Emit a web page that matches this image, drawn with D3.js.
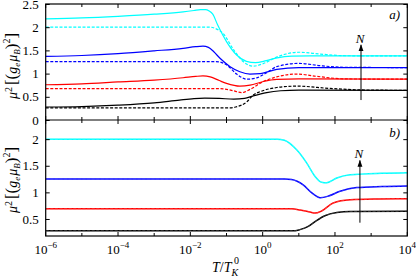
<!DOCTYPE html>
<html>
<head>
<meta charset="utf-8">
<script src="https://cdn.jsdelivr.net/npm/d3@7"></script>
<style>
  body { margin: 0; background: #fff; }
  svg text { font-family: "Liberation Serif", "Times New Roman", serif !important; fill: #000; }
</style>
</head>
<body>
<div id="chart"></div>
<script>
// curves as [log10(T/TK0), mu^2] pairs
// panel a) solid
var cyanSolidA = [[-6,2.18],[-5,2.20],[-4,2.235],[-3,2.28],[-2.2,2.33],[-1.9,2.36],[-1.72,2.38],[-1.58,2.38],[-1.48,2.35],[-1.38,2.28],[-1.24,2.04],[-1.0,1.69],[-0.72,1.40],[-0.45,1.265],[-0.2,1.235],[0.1,1.28],[0.4,1.34],[0.8,1.375],[1.3,1.38],[4,1.38]];
var blueSolidA = [[-6,1.37],[-5,1.39],[-4,1.43],[-3,1.49],[-2.2,1.545],[-1.85,1.58],[-1.65,1.59],[-1.5,1.565],[-1.35,1.47],[-1.18,1.33],[-0.9,1.15],[-0.63,1.04],[-0.35,0.99],[-0.07,1.0],[0.39,1.09],[1.0,1.13],[4,1.13]];
var redSolidA = [[-6,0.76],[-5,0.78],[-4,0.82],[-3,0.86],[-2.2,0.91],[-1.85,0.94],[-1.65,0.95],[-1.45,0.93],[-1.2,0.85],[-1.0,0.79],[-0.63,0.73],[-0.35,0.75],[0.02,0.83],[0.39,0.875],[1.0,0.885],[4,0.88]];
var blackSolidA = [[-6,0.28],[-5,0.29],[-4,0.32],[-3,0.37],[-2.3,0.43],[-1.9,0.46],[-1.6,0.47],[-1.2,0.465],[-0.8,0.45],[-0.5,0.465],[-0.26,0.52],[0.11,0.59],[0.5,0.63],[1.0,0.645],[4,0.64]];
// panel a) dashed
var cyanDashA = [[-6,2.0],[-1.45,2.0],[-1.3,1.97],[-1.1,1.87],[-0.8,1.51],[-0.54,1.26],[-0.26,1.16],[0.0,1.21],[0.4,1.36],[1.0,1.46],[1.6,1.42],[2.3,1.385],[4,1.38]];
var blueDashA = [[-6,1.26],[-1.3,1.26],[-1.0,1.19],[-0.72,0.99],[-0.44,0.88],[-0.2,0.90],[0.11,1.02],[0.39,1.15],[1.0,1.22],[1.6,1.17],[2.3,1.135],[4,1.13]];
var redDashA = [[-6,0.675],[-1.2,0.675],[-1.0,0.66],[-0.81,0.63],[-0.58,0.59],[-0.35,0.66],[0.02,0.83],[0.39,0.93],[0.95,0.99],[1.5,0.94],[2.3,0.885],[4,0.88]];
var blackDashA = [[-6,0.26],[-0.9,0.26],[-0.75,0.28],[-0.44,0.39],[-0.26,0.54],[-0.07,0.61],[0.39,0.70],[0.95,0.73],[1.86,0.68],[2.9,0.645],[4,0.64]];
// panel b) solid and dashed lie on top of each other
var cyanB = [[-6,2.0],[0.4,2.0],[0.6,1.98],[0.94,1.80],[1.22,1.55],[1.45,1.30],[1.63,1.19],[1.77,1.18],[2.05,1.27],[2.42,1.33],[3.3,1.36],[4,1.37]];
var blueB = [[-6,1.25],[0.6,1.25],[0.8,1.24],[1.12,1.14],[1.36,0.99],[1.59,0.90],[1.82,0.93],[2.14,1.02],[2.6,1.09],[3.3,1.11],[4,1.12]];
var redB = [[-6,0.69],[0.8,0.69],[1.03,0.67],[1.31,0.63],[1.45,0.61],[1.63,0.65],[1.95,0.80],[2.42,0.86],[3.2,0.875],[4,0.88]];
var blackB = [[-6,0.28],[0.9,0.28],[1.03,0.30],[1.26,0.36],[1.49,0.47],[1.72,0.56],[2.05,0.62],[2.42,0.64],[4,0.645]];

var xTicks = [-6,-5,-4,-3,-2,-1,0,1,2,3,4];
var xLabels = [-6,-4,-2,0,2,4];
var yTicksA = [0,0.5,1,1.5,2,2.5];
var yTicksB = [0.5,1,1.5,2];
// N arrow: [log10 T, from, to]
var arrowA = [2.72, 0.43, 1.62];
var arrowB = [2.69, 0.43, 1.60];

var width = 416, height = 280;
var left = 45.7, right = 407.3;
var serif = '"Liberation Serif", "Times New Roman", serif';

var svg = d3.select("#chart").append("svg").attr("width", width).attr("height", height)
  .style("font-family", serif);

var x = d3.scaleLog().domain([1e-6, 1e4]).range([left, right]);
var yA = d3.scaleLinear().domain([0, 2.5]).range([120, 4]);
var yB = d3.scaleLinear().domain([0.18, 2.36]).range([236, 120]);

function lineFor(y) {
  return d3.line()
    .x(function (d) { return x(Math.pow(10, d[0])); })
    .y(function (d) { return y(d[1]); })
    .curve(d3.curveMonotoneX);
}

var seriesA = [
  [blackSolidA, "#000000", null], [blackDashA, "#000000", "3,1.6"],
  [redSolidA, "#ff0000", null], [redDashA, "#ff0000", "3,1.6"],
  [blueSolidA, "#0000ff", null], [blueDashA, "#0000ff", "3,1.6"],
  [cyanSolidA, "#00ffff", null], [cyanDashA, "#00ffff", "3,1.6"]
];
var seriesB = [
  [blackB, "#000000"], [redB, "#ff0000"], [blueB, "#0000ff"], [cyanB, "#00ffff"]
];

// panel a lines
seriesA.forEach(function (s) {
  svg.append("path").attr("d", lineFor(yA)(s[0])).attr("fill", "none")
    .attr("stroke", s[1]).attr("stroke-width", 1.2)
    .attr("stroke-dasharray", s[2]);
});
// panel b lines: solid then dashed copy over it
seriesB.forEach(function (s) {
  svg.append("path").attr("d", lineFor(yB)(s[0])).attr("fill", "none")
    .attr("stroke", s[1]).attr("stroke-width", 1.5);
  svg.append("path").attr("d", lineFor(yB)(s[0])).attr("fill", "none")
    .attr("stroke", d3.interpolateRgb(s[1], "#fff")(0.35)).attr("stroke-width", 0.6)
    .attr("stroke-dasharray", "3,1.6");
});

// axes (gnuplot style, ticks inward)
function yAxes(y, ticks) {
  var l = svg.append("g").attr("transform", "translate(" + left + ",0)")
    .call(d3.axisLeft(y).tickValues(ticks).tickSize(-4).tickPadding(7).tickFormat(d3.format("")));
  var r = svg.append("g").attr("transform", "translate(" + right + ",0)")
    .call(d3.axisRight(y).tickValues(ticks).tickSize(-4).tickFormat(""));
  [l, r].forEach(function (g) {
    g.attr("font-family", null);
    g.select(".domain").remove();
    g.selectAll("line").attr("stroke", "#000");
    g.selectAll("text").style("font-size", "13px").style("font-family", serif).attr("fill", "#000");
  });
}
yAxes(yA, yTicksA);
yAxes(yB, yTicksB);

function xTickLen(d) { return xLabels.indexOf(Math.round(Math.log10(d))) >= 0 ? 4 : 3; }
var xv = xTicks.map(function (e) { return Math.pow(10, e); });
[[4, 1], [120, -1], [120, 1], [236, -1]].forEach(function (p) {
  svg.append("g").selectAll("line").data(xv).enter().append("line")
    .attr("x1", function (d) { return x(d); }).attr("x2", function (d) { return x(d); })
    .attr("y1", p[0]).attr("y2", function (d) { return p[0] + p[1] * xTickLen(d); })
    .attr("stroke", "#000");
});

// frame
svg.append("rect").attr("x", left).attr("y", 4).attr("width", right - left).attr("height", 232)
  .attr("fill", "none").attr("stroke", "#000").attr("stroke-width", 1.2);
svg.append("line").attr("x1", left).attr("x2", right).attr("y1", 120).attr("y2", 120)
  .attr("stroke", "#000").attr("stroke-width", 1.2);

// x tick labels 10^n
var xl = svg.append("g").selectAll("text").data(xLabels).enter().append("text")
  .attr("x", function (d) { return x(Math.pow(10, d)); }).attr("y", 254)
  .attr("text-anchor", "middle").style("font-size", "13px");
xl.append("tspan").text("10");
xl.append("tspan").attr("dy", -6).style("font-size", "9px")
  .text(function (d) { return d < 0 ? "\u2212" + (-d) : d; });

// x axis label T/T_K^0
var xt = svg.append("text").attr("x", 212).attr("y", 272).style("font-size", "14px");
xt.append("tspan").style("font-style", "italic").text("T");
xt.append("tspan").text("/");
xt.append("tspan").style("font-style", "italic").text("T");
xt.append("tspan").attr("dy", 3.5).style("font-size", "10px").style("font-style", "italic").text("K");
svg.append("text").attr("x", 234).attr("y", 264).style("font-size", "10px").text("0");

// y axis labels
function yLabel(cy) {
  var t = svg.append("text").attr("transform", "translate(17," + cy + ") rotate(-90)")
    .attr("text-anchor", "middle").style("font-size", "14px");
  t.append("tspan").style("font-style", "italic").text("\u03bc");
  t.append("tspan").attr("dy", -5).style("font-size", "10px").text("2");
  t.append("tspan").attr("dy", 5).attr("dx", 2).style("font-size", "17px").text("[(");
  t.append("tspan").style("font-style", "italic").text("g");
  t.append("tspan").attr("dy", 3).style("font-size", "9px").style("font-style", "italic").text("e");
  t.append("tspan").attr("dy", -3).attr("dx", 1).style("font-style", "italic").text("\u03bc");
  t.append("tspan").attr("dy", 3).style("font-size", "9px").style("font-style", "italic").text("B");
  t.append("tspan").attr("dy", -3).style("font-size", "17px").text(")");
  t.append("tspan").attr("dy", -7).style("font-size", "10px").text("2");
  t.append("tspan").attr("dy", 7).style("font-size", "17px").text("]");
}
yLabel(66);
yLabel(180);

// N arrows
svg.append("defs").append("marker").attr("id", "head").attr("viewBox", "0 0 10 10")
  .attr("refX", 9).attr("refY", 5).attr("markerWidth", 7).attr("markerHeight", 7)
  .attr("orient", "auto").append("path").attr("d", "M0,1.5L10,5L0,8.5z").attr("fill", "#000");
[[arrowA, yA], [arrowB, yB]].forEach(function (a) {
  var px = x(Math.pow(10, a[0][0]));
  svg.append("line").attr("x1", px).attr("x2", px)
    .attr("y1", a[1](a[0][1])).attr("y2", a[1](a[0][2]))
    .attr("stroke", "#000").attr("stroke-width", 1).attr("marker-end", "url(#head)");
  svg.append("text").attr("x", px - 1).attr("y", a[1](a[0][2]) - 2)
    .attr("text-anchor", "middle").style("font-size", "13px").style("font-style", "italic").text("N");
});

// panel labels
svg.append("text").attr("x", 400).attr("y", 19).attr("text-anchor", "end")
  .style("font-size", "13px").style("font-style", "italic").text("a)");
svg.append("text").attr("x", 400).attr("y", 137).attr("text-anchor", "end")
  .style("font-size", "13px").style("font-style", "italic").text("b)");
</script>
</body>
</html>
